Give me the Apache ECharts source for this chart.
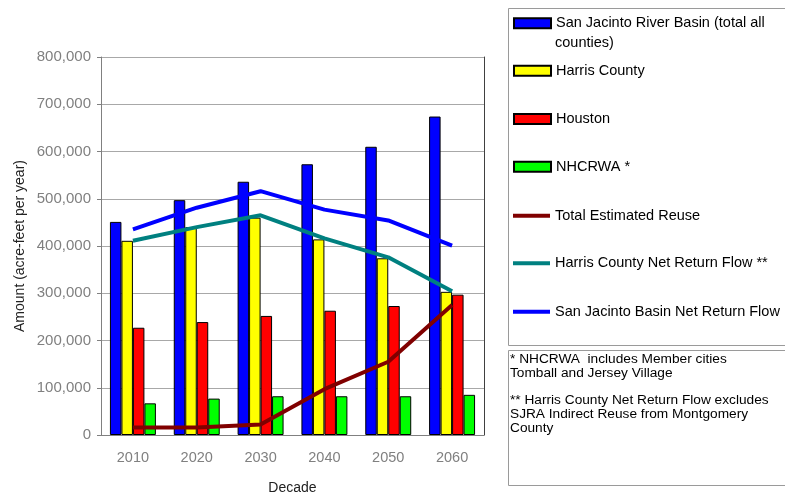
<!DOCTYPE html>
<html>
<head>
<meta charset="utf-8">
<title>Reuse and return flows</title>
<script src="https://cdn.jsdelivr.net/npm/echarts@6/dist/echarts.min.js"></script>
<style>
  html, body { margin: 0; padding: 0; background: #fff; }
  #chart { width: 785px; height: 500px; }
</style>
</head>
<body>
<div id="chart"></div>
<script>
// values (acre-feet per year)
const decades = ['2010', '2020', '2030', '2040', '2050', '2060']
const sanJacintoBasin = [451000, 497000, 536000, 573000, 610000, 674000]
const harrisCounty = [411000, 440000, 460000, 414000, 374000, 303000]
const houston = [227000, 239000, 252000, 263000, 273000, 297000]
const nhcrwa = [67000, 77000, 82000, 82000, 82000, 85000]
const totalReuse = [16000, 16000, 22000, 97000, 155000, 275000]
const harrisNetReturn = [411000, 440000, 465000, 416000, 376000, 304000]
const basinNetReturn = [435000, 481000, 516000, 477000, 454000, 401000]

const notes = [
  '* NHCRWA  includes Member cities',
  'Tomball and Jersey Village',
  '',
  '** Harris County Net Return Flow excludes',
  'SJRA Indirect Reuse from Montgomery',
  'County'
]

const font = 'Liberation Sans, Arial, sans-serif'
const chart = echarts.init(document.getElementById('chart'))

function barSeries(name, data, color) {
  return {
    name: name,
    type: 'bar',
    data: data,
    barGap: '0%',
    barCategoryGap: '28%',
    itemStyle: { color: color, borderColor: '#000', borderWidth: 1 }
  }
}

function lineSeries(name, data, color) {
  return {
    name: name,
    type: 'line',
    data: data,
    symbol: 'none',
    lineStyle: { color: color, width: 4 },
    itemStyle: { color: color }
  }
}

// one legend per entry so each row sits where the original has it
function legendAt(name, centerY, isLine, extra) {
  const lg = {
    data: [name],
    left: 513,
    top: centerY - 10,
    padding: 0,
    icon: 'rect',
    itemWidth: 37,
    itemHeight: isLine ? 4 : 10,
    selectedMode: false,
    textStyle: { fontSize: 14.5, color: '#000', fontFamily: font, lineHeight: 20 }
  }
  if (isLine) lg.itemStyle = { borderWidth: 0 }
  return Object.assign(lg, extra || {})
}

const names = [
  'San Jacinto River Basin (total all counties)',
  'Harris County',
  'Houston',
  'NHCRWA *',
  'Total Estimated Reuse',
  'Harris County Net Return Flow **',
  'San Jacinto Basin Net Return Flow'
]

chart.setOption({
  animation: false,
  backgroundColor: '#fff',
  grid: { left: 101, right: 301, top: 57, bottom: 62 },
  legend: [
    legendAt(names[0], 23.3, false, {
      formatter: function() { return 'San Jacinto River Basin (total all' }
    }),
    legendAt(names[1], 70.7, false),
    legendAt(names[2], 119, false),
    legendAt(names[3], 166.7, false),
    legendAt(names[4], 215.7, true),
    legendAt(names[5], 263.3, true),
    legendAt(names[6], 311.7, true)
  ],
  xAxis: {
    type: 'category',
    data: decades,
    name: 'Decade',
    nameLocation: 'middle',
    nameGap: 46,
    nameTextStyle: { fontSize: 14, color: '#222', fontFamily: font },
    axisLine: { lineStyle: { color: '#808080' } },
    axisTick: { length: 5, lineStyle: { color: '#808080' } },
    axisLabel: { fontSize: 14.5, color: '#808080', fontFamily: font, margin: 15 }
  },
  yAxis: [
    {
      type: 'value',
      min: 0,
      max: 800000,
      interval: 100000,
      name: 'Amount (acre-feet per year)',
      nameLocation: 'middle',
      nameGap: 74,
      nameTextStyle: { fontSize: 14, color: '#222', fontFamily: font },
      axisLine: { show: true, lineStyle: { color: '#808080' } },
      axisTick: { show: true, length: 4, lineStyle: { color: '#808080' } },
      axisLabel: {
        fontSize: 15,
        color: '#808080',
        fontFamily: font,
        margin: 10,
        formatter: function(v) { return v.toLocaleString('en-US') }
      },
      splitLine: { lineStyle: { color: '#a8a8a8' } }
    },
    {
      type: 'value',
      min: 0,
      max: 800000,
      interval: 100000,
      position: 'right',
      axisLine: { show: true, lineStyle: { color: '#404040' } },
      axisTick: { show: false },
      axisLabel: { show: false },
      splitLine: { show: false }
    }
  ],
  graphic: [
    {
      type: 'rect',
      shape: { x: 508.5, y: 8.5, width: 300, height: 337 },
      style: { fill: 'none', stroke: '#9a9a9a', lineWidth: 1 },
      z: -1
    },
    {
      type: 'rect',
      shape: { x: 508.5, y: 350.5, width: 300, height: 135 },
      style: { fill: 'none', stroke: '#9a9a9a', lineWidth: 1 },
      z: -1
    },
    {
      // second line of the first legend entry
      type: 'text',
      x: 555,
      y: 43.3,
      style: {
        text: 'counties)',
        fontSize: 14.5,
        fontFamily: font,
        fill: '#000',
        verticalAlign: 'middle'
      }
    },
    {
      type: 'text',
      left: 510,
      top: 352,
      style: {
        text: notes.join('\n'),
        fontSize: 13.7,
        lineHeight: 13.8,
        fontFamily: font,
        fill: '#000'
      }
    }
  ],
  series: [
    barSeries(names[0], sanJacintoBasin, '#0000ff'),
    barSeries(names[1], harrisCounty, '#ffff00'),
    barSeries(names[2], houston, '#ff0000'),
    barSeries(names[3], nhcrwa, '#00ff00'),
    lineSeries(names[4], totalReuse, '#800000'),
    lineSeries(names[5], harrisNetReturn, '#008080'),
    lineSeries(names[6], basinNetReturn, '#0000ff')
  ]
})
</script>
</body>
</html>
